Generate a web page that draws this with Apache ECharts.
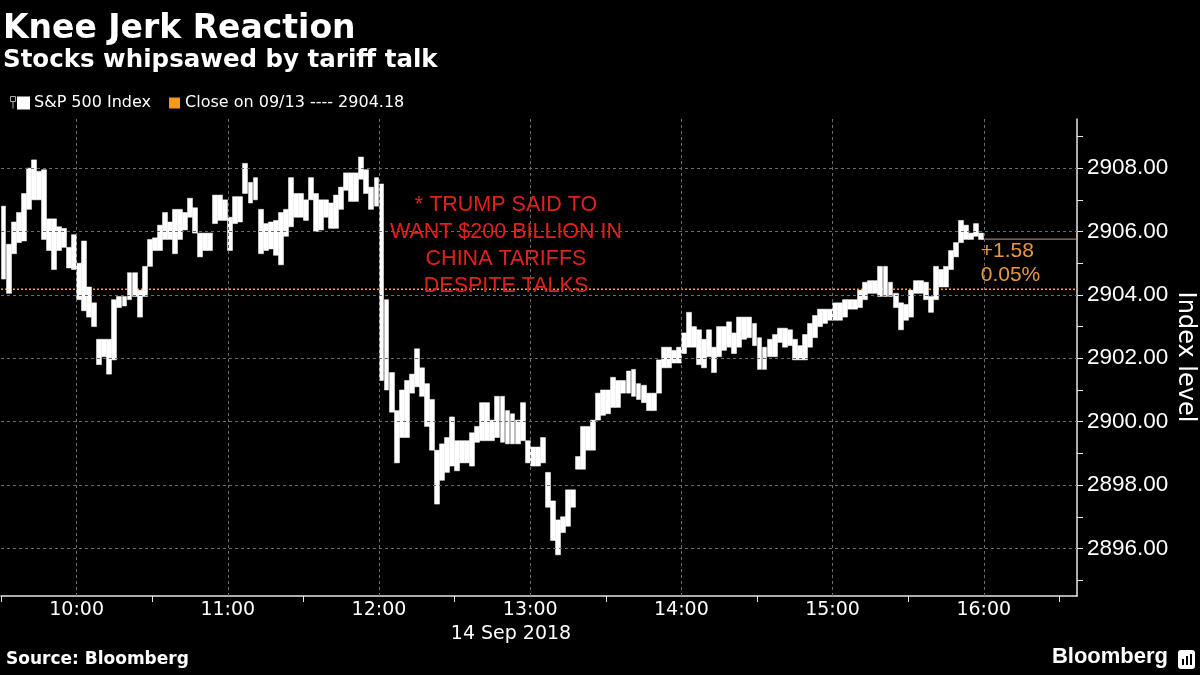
<!DOCTYPE html>
<html><head><meta charset="utf-8">
<script src="https://cdn.jsdelivr.net/npm/echarts@6/dist/echarts.min.js"></script>
<style>html,body{margin:0;padding:0;background:#000}#c{width:1200px;height:675px}</style>
</head><body><div id="c"></div>
<script>
// ---- data (2-minute bars, 14 Sep 2018, from 09:30) ----
const barStart = 570;      // minutes after midnight (09:30)
const barMinutes = 2;
const barLows = [
2904.50,2904.05,2905.30,2905.65,2905.70,2906.70,2907.00,2907.00,2905.75,2905.40,
2904.80,2905.40,2905.50,2904.85,2904.80,2903.85,2903.50,2903.30,2903.00,2901.80,
2902.05,2901.50,2901.95,2903.60,2903.65,2903.85,2903.95,2903.30,2903.95,2904.90,
2905.40,2905.40,2905.75,2905.75,2905.30,2905.75,2906.05,2906.45,2905.95,2905.20,
2905.40,2905.40,2906.25,2906.35,2906.35,2905.40,2906.25,2906.30,2907.20,2906.90,
2907.00,2905.30,2905.40,2905.45,2905.25,2904.95,2905.85,2906.15,2906.45,2906.45,
2906.35,2907.00,2906.00,2906.05,2906.45,2906.10,2906.10,2906.70,2907.30,2906.95,
2906.95,2907.65,2907.20,2906.70,2906.80,2901.30,2901.00,2900.30,2898.70,2899.50,
2899.50,2900.90,2901.10,2900.80,2899.85,2899.10,2897.40,2898.15,2898.40,2898.60,
2898.45,2898.70,2898.70,2898.60,2899.35,2899.40,2899.40,2899.40,2899.50,2899.35,
2899.30,2899.30,2899.30,2899.40,2898.70,2898.60,2898.60,2898.70,2897.30,2896.25,
2895.80,2896.50,2896.70,2897.30,2898.50,2898.50,2899.10,2899.10,2900.05,2900.20,
2900.25,2900.45,2900.45,2900.90,2900.90,2900.80,2900.70,2900.60,2900.35,2900.35,
2900.90,2901.70,2901.70,2901.85,2901.85,2902.15,2902.35,2902.35,2901.80,2901.70,
2902.05,2901.55,2902.05,2902.25,2902.35,2902.15,2902.35,2902.60,2902.65,2902.40,
2901.65,2901.65,2902.05,2902.05,2902.50,2902.35,2902.40,2901.95,2901.95,2901.95,
2902.35,2902.65,2903.00,2903.10,2903.20,2903.20,2903.20,2903.30,2903.55,2903.55,
2903.60,2903.85,2904.05,2904.05,2903.95,2903.95,2903.95,2903.60,2902.90,2903.20,
2903.30,2904.05,2904.05,2903.85,2903.45,2903.85,2904.25,2904.25,2904.80,2905.20,
2905.65,2905.75,2905.75,2905.85,2905.75
];
const barHighs = [
2906.80,2905.60,2906.30,2906.60,2907.20,2908.00,2908.26,2907.90,2907.95,2906.40,
2906.40,2906.15,2906.10,2905.50,2905.90,2905.00,2905.70,2904.25,2903.75,2902.60,
2902.60,2902.60,2903.85,2903.95,2903.95,2904.70,2904.70,2904.15,2904.90,2905.75,
2905.80,2906.20,2906.60,2906.30,2906.70,2906.70,2906.60,2907.05,2906.75,2905.95,
2905.95,2905.95,2907.15,2907.15,2907.00,2906.45,2907.10,2907.10,2908.15,2907.55,
2907.70,2906.70,2906.25,2906.30,2906.35,2906.60,2906.70,2907.70,2907.20,2907.20,
2907.00,2907.70,2907.20,2907.00,2907.00,2906.90,2907.15,2907.40,2907.85,2907.85,
2907.85,2908.35,2907.95,2907.40,2907.70,2907.50,2903.85,2901.55,2900.35,2901.00,
2901.30,2901.50,2902.30,2901.70,2901.20,2900.70,2899.10,2899.30,2899.50,2900.15,
2899.40,2899.40,2899.40,2899.65,2899.85,2900.60,2900.60,2900.05,2900.80,2900.80,
2900.35,2900.25,2900.05,2900.60,2899.40,2899.20,2899.20,2899.50,2898.40,2897.50,
2896.90,2897.00,2897.85,2897.85,2898.90,2899.85,2899.85,2900.05,2900.90,2901.00,
2901.00,2901.40,2901.30,2901.30,2901.60,2901.65,2901.20,2901.15,2900.90,2900.90,
2901.95,2902.35,2902.35,2902.25,2902.35,2902.80,2903.45,2903.00,2902.90,2902.60,
2902.90,2902.35,2903.00,2903.00,2903.15,2902.80,2903.30,2903.30,2903.30,2903.10,
2902.65,2902.35,2902.60,2902.75,2902.95,2902.95,2902.90,2902.60,2902.40,2902.75,
2903.10,2903.35,2903.55,2903.55,2903.55,2903.75,2903.75,2903.85,2903.85,2903.85,
2904.15,2904.40,2904.45,2904.45,2904.90,2904.90,2904.40,2904.05,2903.75,2903.70,
2904.15,2904.45,2904.45,2904.40,2903.95,2904.90,2904.80,2904.90,2905.40,2905.65,
2906.35,2906.20,2905.95,2906.25,2905.95
];
const prevClose = 2904.18;
const lastPrice = 2905.76;
const changeLines = ['+1.58', '0.05%'];
const seriesName = 'S&P 500 Index';
const closeName = 'Close on 09/13 ---- 2904.18';
const yAxisTitle = 'Index level';
const yTickValues = [2895,2896,2897,2898,2899,2900,2901,2902,2903,2904,2905,2906,2907,2908,2909];
const yLabelValues = [2896,2898,2900,2902,2904,2906,2908];
const xTickValues = [570,630,690,750,810,870,930,990];
const xLabelValues = [600,660,720,780,840,900,960];
const annotationLines = ['* TRUMP SAID TO', 'WANT $200 BILLION IN', 'CHINA TARIFFS', 'DESPITE TALKS'];

const X_MIN = 570, X_MAX = 997, Y_MIN = 2894.5, Y_MAX = 2909.55;

// candlestick item: [time (bar centre), open, close, low, high] – drawn as the full low–high range
const bars = barLows.map((lo, i) => [barStart + i * barMinutes + barMinutes / 2, lo, barHighs[i], lo, barHighs[i]]);
const lastTime = barStart + (barLows.length - 1) * barMinutes + 1;

function hhmm(v) {
  const h = Math.floor(v / 60), m = Math.round(v % 60);
  return (h < 10 ? '0' : '') + h + ':' + (m < 10 ? '0' : '') + m;
}

const gridLineStyle = { color: '#6c6c6c', width: 1, type: [3, 3] };
const chart = echarts.init(document.getElementById('c'));
chart.setOption({
  backgroundColor: '#000',
  animation: false,
  grid: { left: 1, right: 123, top: 119, bottom: 79, containLabel: false, outerBoundsMode: 'none' },
  legend: {
    left: 12, top: 90, itemWidth: 11, itemHeight: 11, itemGap: 18,
    textStyle: { color: '#fff', fontFamily: 'DejaVu Sans', fontSize: 16 },
    data: [{ name: seriesName, icon: 'rect', itemStyle: { color: '#fff' } }, { name: closeName, icon: 'rect' }]
  },
  xAxis: {
    type: 'value', min: X_MIN, max: X_MAX,
    axisLine: { show: true, lineStyle: { color: '#e6e6e6', width: 1.5 } },
    axisTick: { show: true, customValues: xTickValues, length: 6, lineStyle: { color: '#e6e6e6' } },
    axisLabel: { customValues: xLabelValues, formatter: hhmm, color: '#fff', fontFamily: 'DejaVu Sans', fontSize: 19, margin: 5 },
    splitLine: { show: false }
  },
  yAxis: {
    type: 'value', position: 'right', min: Y_MIN, max: Y_MAX, scale: true,
    axisLine: { show: true, lineStyle: { color: '#e6e6e6', width: 1.5 } },
    axisTick: { show: true, customValues: yTickValues, length: 6, lineStyle: { color: '#e6e6e6' } },
    axisLabel: { customValues: yLabelValues, formatter: v => v.toFixed(2), color: '#fff', fontFamily: 'Liberation Sans', fontSize: 22.5, margin: 10 },
    splitLine: { show: false }
  },
  series: [
    {
      name: closeName, type: 'line', z: 2, symbol: 'none', silent: true,
      data: [[X_MIN, prevClose], [X_MAX, prevClose]],
      itemStyle: { color: '#f39a1e' },
      lineStyle: { color: '#e9a04a', width: 1.6, type: [2, 2] },
      markLine: {
        silent: true, symbol: ['none', 'none'], label: { show: false }, lineStyle: gridLineStyle,
        emphasis: { disabled: true },
        data: yLabelValues.map(v => ({ yAxis: v })).concat(xLabelValues.map(v => ({ xAxis: v })))
      }
    },
    {
      name: 'last', type: 'line', z: 2, symbol: 'none', silent: true,
      data: [[lastTime, lastPrice], [X_MAX, lastPrice]],
      lineStyle: { color: '#c99572', width: 1 },
      markPoint: {
        silent: true,
        data: [{
          coord: [lastTime, lastPrice], symbol: 'rect', symbolSize: [1, 1],
          itemStyle: { color: 'rgba(0,0,0,0)' },
          label: {
            show: true, formatter: changeLines.join('\n'), position: [0, 1], align: 'left', verticalAlign: 'top',
            color: '#e8983c', fontFamily: 'Liberation Sans', fontSize: 21, lineHeight: 24
          }
        }]
      }
    },
    {
      name: seriesName, type: 'candlestick', z: 3, silent: true,
      barWidth: 5.4,
      itemStyle: { color: '#ffffff', color0: '#ffffff', borderColor: '#ffffff', borderColor0: '#ffffff', borderWidth: 0.5 },
      encode: { x: 0, y: [1, 2, 3, 4] },
      data: bars
    }
  ],
  graphic: [
    { type: 'text', left: 3, top: 13, style: { text: 'Knee Jerk Reaction', fill: '#fff', font: 'bold 33px "DejaVu Sans"' } },
    { type: 'text', left: 3, top: 48, style: { text: 'Stocks whipsawed by tariff talk', fill: '#fff', font: 'bold 24.5px "DejaVu Sans"' } },
    { type: 'text', left: 6, top: 651, style: { text: 'Source: Bloomberg', fill: '#fff', font: 'bold 17px "DejaVu Sans"' } },
    { type: 'text', right: 32, top: 646, style: { text: 'Bloomberg', fill: '#fff', font: 'bold 22px "Liberation Sans"' } },
    { type: 'group', right: 5, top: 650, children: [
      { type: 'rect', shape: { x: 0, y: 0, width: 17, height: 19, r: 3 }, style: { fill: '#fff' } },
      { type: 'rect', shape: { x: 4, y: 9, width: 2, height: 6 }, style: { fill: '#000' } },
      { type: 'rect', shape: { x: 8, y: 6, width: 2, height: 9 }, style: { fill: '#000' } },
      { type: 'rect', shape: { x: 12, y: 4, width: 2, height: 11 }, style: { fill: '#000' } }
    ]},
    { type: 'text', x: 511, y: 634, style: { text: '14 Sep 2018', fill: '#fff', font: '19px "DejaVu Sans"', align: 'center', verticalAlign: 'middle' } },
    { type: 'text', x: 1185, y: 357, rotation: -Math.PI / 2, style: { text: yAxisTitle, fill: '#fff', font: '24px "DejaVu Sans"', align: 'center', verticalAlign: 'middle' } },
    { type: 'group', left: 8, top: 94, children: [
      { type: 'rect', shape: { x: 0, y: 0, width: 5, height: 5 }, style: { fill: 'none', stroke: '#aaa', lineWidth: 1 } },
      { type: 'line', shape: { x1: 2.5, y1: 5, x2: 2.5, y2: 12 }, style: { stroke: '#aaa', lineWidth: 1 } }
    ]},
    { type: 'text', x: 506, y: 246, z: 10, style: {
      text: annotationLines.join('\n'), fill: '#e3211c', font: '21.5px "Liberation Sans"',
      align: 'center', verticalAlign: 'middle', lineHeight: 27 } }
  ]
});
</script></body></html>
